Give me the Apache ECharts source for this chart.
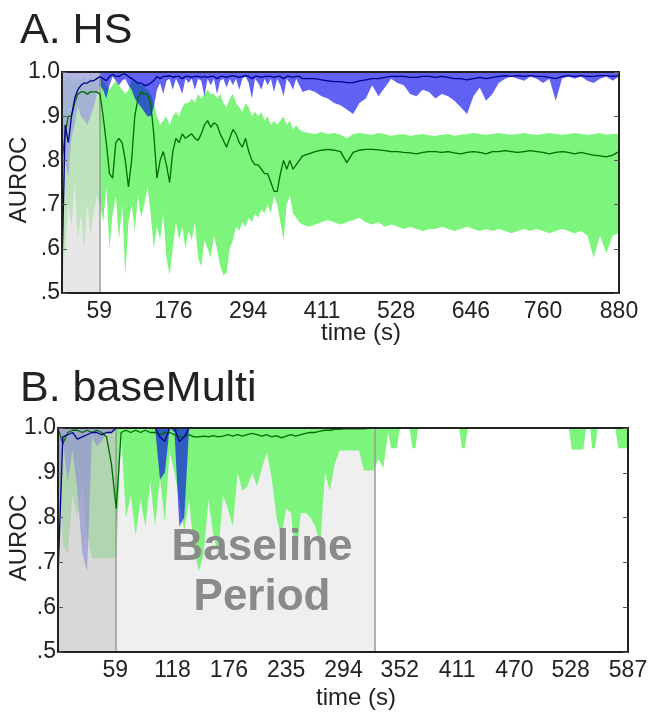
<!DOCTYPE html>
<html>
<head>
<meta charset="utf-8">
<script src="https://cdn.jsdelivr.net/npm/echarts@6.0.0/dist/echarts.min.js"></script>
<style>
html,body{margin:0;padding:0;background:#fff;}
#chart{width:648px;height:713px;}
</style>
</head>
<body>
<div id="chart"></div>
<script>
// A. HS  (time in s, AUROC values)
var hsTime = [
  0,5,10,15,20,25,30,35,40,45,50,55,
  60,65,70,75,80,85,90,95,100,105,110,115,
  120,125,130,135,140,145,150,155,160,165,170,175,
  180,185,190,195,200,205,210,215,220,225,230,235,
  240,245,250,255,260,265,270,275,280,285,290,295,
  300,305,310,315,320,325,330,335,340,345,350,355,
  360,365,370,375,380,
  390,400,410,420,430,440,450,460,470,480,
  490,500,510,520,530,540,550,560,570,580,
  590,600,610,620,630,640,650,660,670,680,
  690,700,710,720,730,740,750,760,770,780,
  790,800,810,820,830,840,850,860,870,880];
var hsGreenHigh = [
  0.97,0.98,0.99,0.98,0.97,0.99,0.98,0.99,0.98,0.99,0.98,0.99,
  0.99,0.98,0.97,0.96,0.97,0.98,0.97,0.96,0.95,0.96,0.98,0.98,
  0.975,0.97,0.97,0.96,0.95,0.93,0.90,0.88,0.89,0.90,0.88,0.90,
  0.91,0.90,0.92,0.93,0.93,0.94,0.93,0.95,0.94,0.95,0.96,0.95,
  0.95,0.94,0.95,0.93,0.92,0.94,0.95,0.93,0.92,0.91,0.93,0.92,
  0.90,0.91,0.90,0.91,0.89,0.90,0.88,0.89,0.88,0.89,0.90,0.88,
  0.89,0.87,0.88,0.87,0.865,
  0.862,0.86,0.864,0.86,0.862,0.858,0.85,0.86,0.862,0.86,
  0.858,0.862,0.86,0.856,0.858,0.86,0.855,0.858,0.86,0.857,
  0.855,0.858,0.86,0.856,0.858,0.86,0.862,0.86,0.858,0.86,
  0.862,0.86,0.858,0.86,0.862,0.86,0.858,0.86,0.862,0.86,
  0.858,0.86,0.862,0.86,0.858,0.86,0.862,0.858,0.86,0.86];
var hsGreenLow = [
  0.52,0.60,0.70,0.65,0.75,0.62,0.68,0.60,0.70,0.63,0.68,0.72,
  0.70,0.66,0.74,0.60,0.68,0.72,0.62,0.70,0.54,0.66,0.70,0.64,
  0.72,0.67,0.70,0.74,0.68,0.60,0.65,0.62,0.68,0.58,0.54,0.60,
  0.66,0.62,0.65,0.60,0.64,0.62,0.66,0.58,0.56,0.62,0.60,0.58,
  0.63,0.60,0.56,0.54,0.545,0.60,0.62,0.65,0.64,0.66,0.65,0.67,
  0.66,0.68,0.67,0.69,0.68,0.70,0.68,0.72,0.70,0.66,0.62,0.70,
  0.72,0.68,0.67,0.66,0.655,
  0.65,0.655,0.66,0.665,0.66,0.655,0.66,0.665,0.67,0.66,
  0.655,0.66,0.65,0.655,0.65,0.645,0.65,0.645,0.64,0.645,
  0.645,0.65,0.645,0.64,0.645,0.65,0.645,0.64,0.645,0.64,
  0.645,0.64,0.635,0.64,0.645,0.64,0.645,0.64,0.635,0.64,
  0.645,0.64,0.635,0.64,0.63,0.58,0.63,0.59,0.63,0.635];
var hsGreenMean = [
  0.80,0.86,0.90,0.90,0.93,0.95,0.955,0.955,0.95,0.955,0.955,0.955,
  0.95,0.90,0.84,0.77,0.76,0.84,0.85,0.84,0.80,0.74,0.80,0.90,
  0.94,0.955,0.95,0.95,0.93,0.86,0.76,0.80,0.82,0.79,0.75,0.82,
  0.85,0.84,0.86,0.85,0.855,0.86,0.85,0.845,0.86,0.88,0.89,0.875,
  0.885,0.88,0.86,0.845,0.83,0.85,0.87,0.86,0.84,0.83,0.85,0.82,
  0.80,0.79,0.79,0.78,0.77,0.77,0.75,0.73,0.73,0.77,0.80,0.78,
  0.80,0.78,0.79,0.80,0.81,
  0.815,0.82,0.823,0.825,0.823,0.82,0.795,0.818,0.823,0.825,
  0.825,0.824,0.822,0.82,0.82,0.818,0.817,0.815,0.818,0.82,
  0.82,0.818,0.82,0.817,0.815,0.818,0.82,0.818,0.815,0.82,
  0.82,0.822,0.82,0.818,0.82,0.822,0.82,0.818,0.815,0.818,
  0.82,0.818,0.815,0.818,0.815,0.812,0.81,0.808,0.812,0.82];
var hsBlueLow = [
  0.52,0.80,0.76,0.85,0.88,0.92,0.90,0.89,0.88,0.90,0.92,0.95,
  0.97,0.96,0.94,0.97,0.99,0.98,0.97,0.98,0.985,0.97,0.96,0.94,
  0.93,0.92,0.91,0.90,0.90,0.92,0.96,0.975,0.95,0.98,0.985,0.96,
  0.985,0.97,0.95,0.985,0.975,0.985,0.96,0.985,0.98,0.945,0.985,0.97,
  0.985,0.95,0.98,0.985,0.965,0.985,0.97,0.985,0.96,0.985,0.99,0.975,
  0.94,0.985,0.975,0.96,0.985,0.97,0.985,0.955,0.985,0.97,0.945,0.985,
  0.975,0.96,0.985,0.97,0.955,
  0.96,0.955,0.945,0.94,0.93,0.925,0.915,0.905,0.93,0.94,
  0.97,0.945,0.965,0.985,0.975,0.97,0.95,0.945,0.96,0.955,
  0.94,0.95,0.945,0.935,0.92,0.905,0.945,0.965,0.935,0.95,
  0.975,0.985,0.99,0.985,0.98,0.99,0.985,0.975,0.985,0.935,
  0.985,0.99,0.985,0.99,0.98,0.975,0.985,0.99,0.98,0.99];
var hsBlueMean = [
  0.55,0.88,0.84,0.90,0.94,0.96,0.97,0.975,0.975,0.98,0.98,0.985,
  0.99,0.985,0.98,0.99,0.995,0.99,0.99,0.995,0.995,0.99,0.985,0.98,
  0.975,0.975,0.97,0.97,0.975,0.98,0.99,0.985,0.99,0.99,0.992,0.988,
  0.99,0.99,0.985,0.99,0.99,0.988,0.99,0.99,0.988,0.99,0.988,0.99,
  0.99,0.985,0.99,0.99,0.988,0.99,0.992,0.99,0.988,0.99,0.992,0.99,
  0.985,0.99,0.99,0.988,0.99,0.99,0.99,0.988,0.99,0.99,0.985,0.99,
  0.99,0.988,0.99,0.99,0.985,
  0.985,0.985,0.982,0.98,0.978,0.978,0.976,0.976,0.98,0.982,
  0.985,0.985,0.988,0.99,0.99,0.99,0.988,0.988,0.99,0.99,
  0.988,0.99,0.988,0.985,0.985,0.982,0.985,0.988,0.985,0.988,
  0.99,0.992,0.99,0.992,0.99,0.992,0.99,0.99,0.988,0.985,
  0.99,0.992,0.99,0.992,0.99,0.99,0.992,0.992,0.99,0.992];
var hsTicks = [59,176,294,411,528,646,760,880];

// B. baseMulti
var bmTime = [
  0,5,10,15,20,25,30,35,40,45,50,55,
  60,65,70,75,80,85,90,95,100,105,110,115,
  120,125,130,135,140,145,150,155,160,165,170,175,
  180,185,190,195,200,205,210,215,220,225,230,235,
  240,245,250,255,260,265,270,275,280,285,290,295,
  300,305,310,315,320,325,330,335,340,
  343,349,352,362,365,368,371,413,416,419,422,
  526,529,541,544,548,550,553,556,574,577,587];
var bmGreenLow = [
  0.96,0.74,0.72,0.85,0.80,0.88,0.76,0.71,0.71,0.71,0.71,0.71,
  0.71,0.99,0.80,0.85,0.76,0.84,0.78,0.88,0.78,0.89,0.79,0.95,
  0.90,0.84,0.77,0.84,0.73,0.68,0.72,0.84,0.76,0.72,0.85,0.82,
  0.78,0.90,0.86,0.87,0.90,0.87,0.91,0.945,0.89,0.80,0.757,0.82,
  0.81,0.70,0.81,0.81,0.80,0.78,0.74,0.90,0.86,0.92,0.95,0.95,
  0.95,0.95,0.95,0.905,0.905,0.905,0.93,0.91,0.99,
  0.955,0.955,1.0,1.0,0.955,0.955,1.0,1.0,0.955,0.955,1.0,
  1.0,0.952,0.952,1.0,1.0,0.955,0.955,1.0,1.0,0.955,0.955];
var bmGreenMean = [
  1.0,0.965,0.99,0.995,0.995,0.99,0.995,0.99,0.995,0.99,0.98,0.92,
  0.82,0.99,0.995,0.99,0.995,0.99,0.995,0.99,0.99,0.985,0.99,0.99,
  0.985,0.98,0.98,0.985,0.98,0.98,0.982,0.98,0.983,0.98,0.982,0.985,
  0.982,0.985,0.982,0.985,0.988,0.985,0.982,0.985,0.98,0.983,0.978,0.982,
  0.985,0.982,0.985,0.988,0.99,0.99,0.993,0.995,0.995,0.997,0.997,0.998,
  0.998,0.998,0.998,0.998,0.999,0.999,0.999,1.0,1.0,
  1.0,1.0,1.0,1.0,1.0,1.0,1.0,1.0,1.0,1.0,1.0,
  1.0,1.0,1.0,1.0,1.0,1.0,1.0,1.0,1.0,1.0,1.0];
var bmBlueTime = [
  0,5,10,15,20,25,30,35,40,45,50,55,
  60,65,70,75,80,85,90,95,100,105,110,115,
  120,125,130,135];
var bmBlueLow = [
  0.67,0.97,0.88,0.95,0.86,0.72,0.68,0.98,0.96,0.97,0.99,0.99,
  1.0,1.0,1.0,1.0,1.0,1.0,1.0,1.0,1.0,0.885,0.90,1.0,
  0.99,0.78,0.80,1.0];
var bmBlueMean = [
  0.67,0.98,0.985,0.99,0.975,0.98,0.985,0.99,0.99,0.985,0.99,0.99,
  1.0,1.0,1.0,1.0,1.0,1.0,1.0,1.0,1.0,0.98,0.97,1.0,
  1.0,0.97,0.98,1.0];
var bmTicks = [59,118,176,235,294,352,411,470,528,587];

var aurocTop = 1.0;
var firstMinute = 59;
var baselineEnd = 326;

var FONT = '"Liberation Sans", Arial, sans-serif';
var INK = '#222';
var GREEN_BAND = '#7df57d';
var BLUE_BAND = 'rgba(0,0,235,0.62)';
var GREEN_LINE = '#006a00';
var BLUE_LINE = '#00008b';

function pairs(t, v) {
  return t.map(function (x, i) { return [x, v[i]]; });
}
// filled band between lo and hi, drawn as one polygon through the axes' scales
function band(gi, t, lo, hi, color, z) {
  var rows = t.map(function (x, i) {
    return [x, lo[i], Array.isArray(hi) ? hi[i] : hi];
  });
  return {
    type: 'custom', xAxisIndex: gi, yAxisIndex: gi, data: rows, silent: true, z: z,
    encode: { x: 0, y: [1, 2] },
    renderItem: function (params, api) {
      if (params.dataIndexInside !== 0) return;
      var n = params.dataInsideLength, top = [], bottom = [];
      for (var j = 0; j < n; j++) {
        top.push(api.coord([api.value(0, j), api.value(2, j)]));
        bottom.push(api.coord([api.value(0, j), api.value(1, j)]));
      }
      return { type: 'polygon', shape: { points: top.concat(bottom.reverse()) },
        style: { fill: color, stroke: null } };
    }
  };
}
function meanLine(gi, t, v, color) {
  return { type: 'line', xAxisIndex: gi, yAxisIndex: gi, data: pairs(t, v), symbol: 'none',
    lineStyle: { color: color, width: 1.3 }, silent: true, z: 20 };
}
function shade(gi, from, to, color, z) {
  return { type: 'line', xAxisIndex: gi, yAxisIndex: gi, data: [], silent: true, z: z,
    markArea: { silent: true, z: z, itemStyle: { color: color, borderWidth: 0 },
      data: [[{ xAxis: from }, { xAxis: to }]] } };
}
function edge(gi, xs) {
  return { type: 'line', xAxisIndex: gi, yAxisIndex: gi, data: [], silent: true, z: 15,
    markLine: { silent: true, z: 15, symbol: 'none', label: { show: false },
      lineStyle: { color: '#9a9a9a', width: 1.5, type: 'solid' },
      data: xs.map(function (x) { return { xAxis: x }; }) } };
}
function yLabel(v) {
  return v >= 0.999 ? '1.0' : v.toFixed(1).replace(/^0/, '');
}
function leftY(gi) {
  return { type: 'value', gridIndex: gi, min: 0.5, max: 1.0, interval: 0.1, z: 30,
    axisLine: { show: true, onZero: false, lineStyle: { color: INK, width: 2 } },
    axisTick: { show: true, inside: true, length: 5, lineStyle: { color: '#555' } },
    axisLabel: { formatter: yLabel, fontSize: 23, fontFamily: FONT, color: INK, margin: 2 },
    splitLine: { show: false } };
}
function rightY(gi) {
  return { type: 'value', gridIndex: gi, position: 'right', min: 0.5, max: 1.0, interval: 0.1, z: 30,
    axisLine: { show: true, onZero: false, lineStyle: { color: INK, width: 2 } },
    axisTick: { show: true, inside: true, length: 5, lineStyle: { color: '#555' } },
    axisLabel: { show: false }, splitLine: { show: false } };
}
function bottomX(gi, max, ticks) {
  return { type: 'value', gridIndex: gi, min: 0, max: max, z: 30,
    axisLine: { show: true, onZero: false, lineStyle: { color: INK, width: 2 } },
    axisTick: { show: false },
    axisLabel: { customValues: ticks, fontSize: 23, fontFamily: FONT, color: INK, margin: 7 },
    splitLine: { show: false } };
}
function topX(gi, max) {
  return { type: 'value', gridIndex: gi, position: 'top', min: 0, max: max, z: 30,
    axisLine: { show: true, onZero: false, lineStyle: { color: INK, width: 2 } },
    axisTick: { show: false }, axisLabel: { show: false }, splitLine: { show: false } };
}

var chart = echarts.init(document.getElementById('chart'), null, { renderer: 'canvas' });

var series = [];
// panel A
series.push(band(0, hsTime, hsGreenLow, hsGreenHigh, GREEN_BAND, 3));
series.push(band(0, hsTime, hsBlueLow, aurocTop, BLUE_BAND, 4));
series.push(shade(0, 0, firstMinute, 'rgba(220,220,220,0.68)', 10));
series.push(edge(0, [firstMinute]));
series.push(meanLine(0, hsTime, hsGreenMean, GREEN_LINE));
series.push(meanLine(0, hsTime, hsBlueMean, BLUE_LINE));
// panel B
series.push(shade(1, firstMinute, baselineEnd, '#efefef', 1));
series.push(band(1, bmTime, bmGreenLow, aurocTop, GREEN_BAND, 3));
series.push(band(1, bmBlueTime, bmBlueLow, aurocTop, BLUE_BAND, 4));
series.push(shade(1, 0, firstMinute, 'rgba(200,200,200,0.7)', 10));
series.push(edge(1, [firstMinute, baselineEnd]));
series.push(meanLine(1, bmTime, bmGreenMean, GREEN_LINE));
series.push(meanLine(1, bmBlueTime, bmBlueMean, BLUE_LINE));

var option = {
  animation: false,
  backgroundColor: '#fff',
  title: [
    { text: 'A. HS', left: 20, top: 10, padding: 0,
      textStyle: { fontSize: 43, fontWeight: 'normal', fontFamily: FONT, color: INK } },
    { text: 'B. baseMulti', left: 20, top: 368, padding: 0,
      textStyle: { fontSize: 43, fontWeight: 'normal', fontFamily: FONT, color: INK } }
  ],
  grid: [
    { left: 62, top: 72, width: 557, height: 221, outerBoundsMode: 'none' },
    { left: 58, top: 428, width: 570, height: 224, outerBoundsMode: 'none' }
  ],
  xAxis: [bottomX(0, 880, hsTicks), bottomX(1, 587, bmTicks), topX(0, 880), topX(1, 587)],
  yAxis: [leftY(0), leftY(1), rightY(0), rightY(1)],
  graphic: [
    { type: 'text', x: 19, y: 180, rotation: Math.PI / 2, z: 50,
      style: { text: 'AUROC', font: '24px ' + FONT, fill: INK, align: 'center', verticalAlign: 'middle' } },
    { type: 'text', x: 19, y: 538, rotation: Math.PI / 2, z: 50,
      style: { text: 'AUROC', font: '24px ' + FONT, fill: INK, align: 'center', verticalAlign: 'middle' } },
    { type: 'text', x: 361, y: 333, z: 50,
      style: { text: 'time (s)', font: '24px ' + FONT, fill: INK, align: 'center', verticalAlign: 'middle' } },
    { type: 'text', x: 356, y: 698, z: 50,
      style: { text: 'time (s)', font: '24px ' + FONT, fill: INK, align: 'center', verticalAlign: 'middle' } },
    { type: 'text', x: 262, y: 573, z: 50,
      style: { text: 'Baseline\nPeriod', font: 'bold 44px ' + FONT, fill: '#8a8a8a',
        align: 'center', verticalAlign: 'middle', lineHeight: 50 } }
  ],
  series: series
};
chart.setOption(option);
</script>
</body>
</html>
